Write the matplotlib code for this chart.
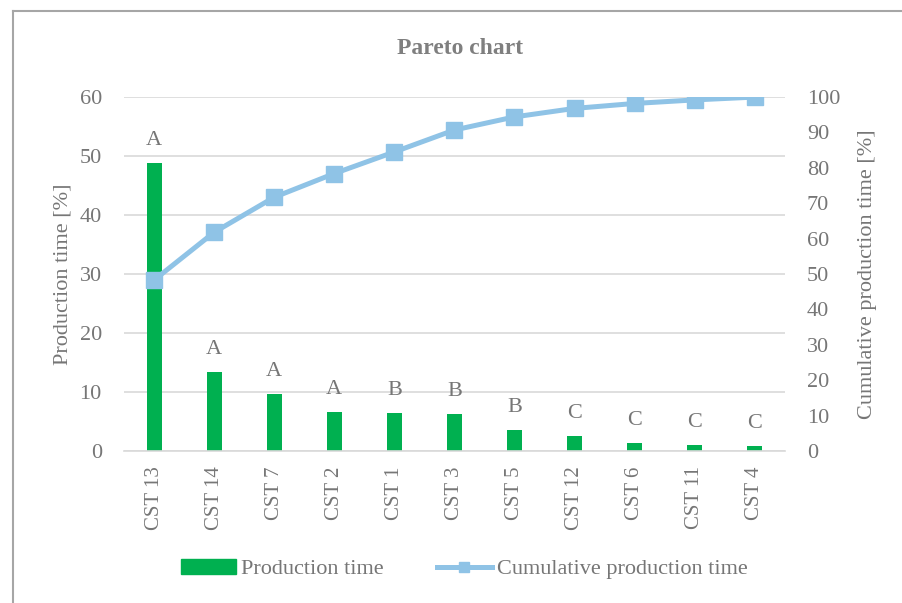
import matplotlib.pyplot as plt
from matplotlib.lines import Line2D
from matplotlib.patches import Patch

categories = ["CST 13", "CST 14", "CST 7", "CST 2", "CST 1", "CST 3",
              "CST 5", "CST 12", "CST 6", "CST 11", "CST 4"]
production = [48.8, 13.4, 9.7, 6.6, 6.4, 6.2, 3.6, 2.6, 1.3, 1.0, 0.85]
cumulative = [48.3, 61.8, 71.7, 78.4, 84.5, 90.7, 94.4, 96.8, 98.2, 99.2, 100.0]
abc_class = ["A", "A", "A", "A", "B", "B", "B", "C", "C", "C", "C"]

green = "#00b050"
blue = "#8fc3e6"
grey = "#767676"
grid = "#d9d9d9"

plt.rcParams["font.family"] = ["Liberation Serif", "DejaVu Serif"]

fig = plt.figure(figsize=(9.02, 6.03), dpi=100)
fig.patch.set_facecolor("white")
ax = fig.add_axes([0.1375, 0.252, 0.7325, 0.587])
ax2 = ax.twinx()

x = list(range(len(categories)))
ax.bar(x, production, width=0.25, color=green, zorder=2)
for xi, p, c in zip(x, production, abc_class):
    ax.text(xi, p + 2.2, c, ha="center", va="bottom", fontsize=16, color=grey)

ax2.plot(x, cumulative, color=blue, lw=3.6, marker="s", markersize=11, zorder=3)

ax.set_xlim(-0.5, len(categories) - 0.5)
ax.set_ylim(0, 60)
ax2.set_ylim(0, 100)
ax.set_yticks(range(0, 61, 10))
ax2.set_yticks(range(0, 101, 10))
ax.yaxis.grid(True, color=grid, lw=1.2, zorder=0)
ax.set_axisbelow(True)

ax.set_xticks(x)
ax.set_xticklabels(categories, rotation=90)
for a in (ax, ax2):
    for s in a.spines.values():
        s.set_visible(False)
    a.tick_params(length=0, labelsize=16, labelcolor=grey)
ax.tick_params(axis="x", labelsize=15, pad=11)
ax.spines["bottom"].set_visible(True)
ax.spines["bottom"].set_color(grid)
ax.spines["bottom"].set_linewidth(1.2)
ax.tick_params(axis="y", pad=16)
ax2.tick_params(axis="y", pad=16)

ax.set_ylabel("Production time [%]", fontsize=16, color=grey, labelpad=5)
ax2.set_ylabel("Cumulative production time [%]", fontsize=16, color=grey, labelpad=13)

fig.text(0.51, 0.92, "Pareto chart", ha="center", va="center",
         fontsize=17, fontweight="bold", color="#7f7f7f")

handles = [Patch(color=green),
           Line2D([], [], color=blue, lw=3.6, marker="s", markersize=7)]
labels = ["Production time", "Cumulative production time"]
fig.legend(handles, labels, loc="center", bbox_to_anchor=(464 / 902, 1 - 569 / 603),
           ncol=2, frameon=False, fontsize=16, labelcolor=grey, handlelength=2.5,
           handletextpad=0.2, columnspacing=2.4, handleheight=0.7)

# chart area border (top and left edges visible)
fig.add_artist(Line2D([13 / 902, 1.0], [1 - 11 / 603] * 2, color="#a6a6a6", lw=1.5,
                      transform=fig.transFigure))
fig.add_artist(Line2D([13 / 902] * 2, [0.0, 1 - 11 / 603], color="#a6a6a6", lw=1.5,
                      transform=fig.transFigure))

fig.savefig("out.png", dpi=100, facecolor="white")
